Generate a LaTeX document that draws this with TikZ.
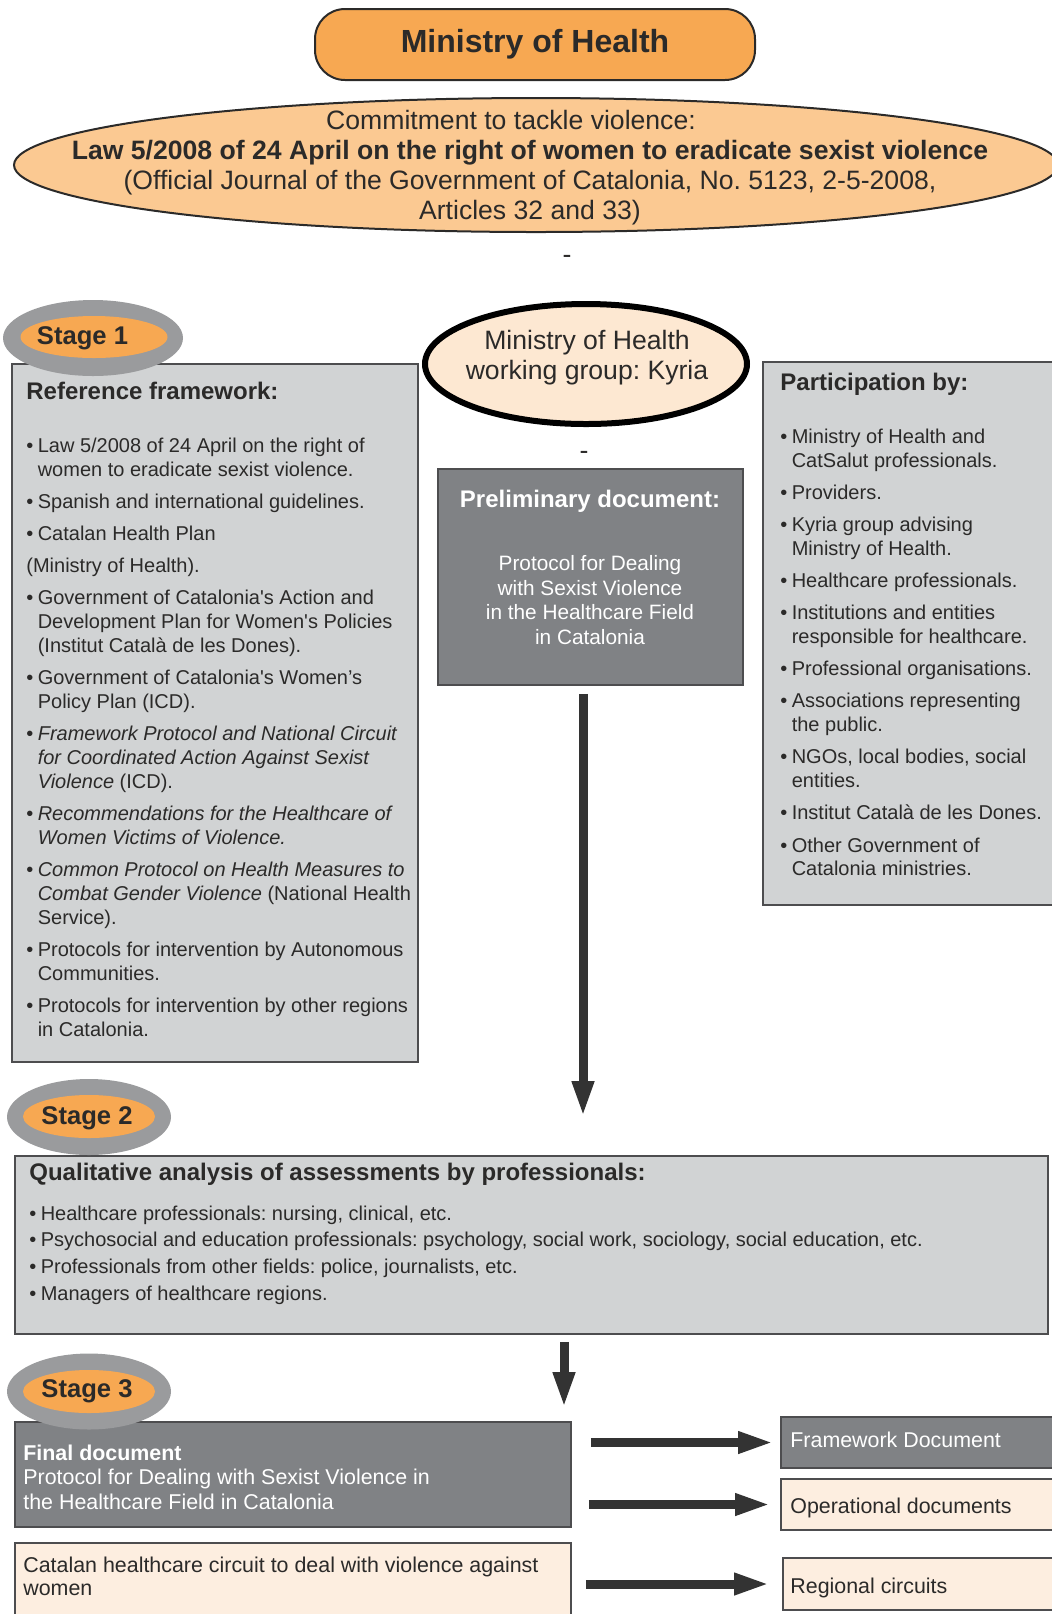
\documentclass[tikz,border=0pt]{standalone}
\usepackage{fontspec}
\setmainfont{Liberation Sans}
\usepackage{tikz}
\usepackage{xcolor}
\usetikzlibrary{calc,positioning,shapes,arrows.meta}

\definecolor{ink}{HTML}{2B2A29}
\definecolor{boxgrey}{HTML}{D1D3D4}
\definecolor{docgrey}{HTML}{808285}
\definecolor{ringgrey}{HTML}{9A9B9D}
\definecolor{edgegrey}{HTML}{4D4D4F}
\definecolor{orangeA}{HTML}{F7A852}
\definecolor{orangeB}{HTML}{FBC992}
\definecolor{peach}{HTML}{FDEEE0}
\definecolor{kyriafill}{HTML}{FDE8D2}
\definecolor{arrowgrey}{HTML}{333333}

\newcommand{\bul}{\textbullet\hspace{2.2pt}}
\newcommand{\ind}{\hphantom{\textbullet\hspace{2.2pt}}}
\newcommand{\apo}{\textquotesingle}
\frenchspacing

\begin{document}
\begin{tikzpicture}[x=0.5pt,y=-0.5pt,
    box/.style={draw=edgegrey,line width=0.8pt,fill=boxgrey,inner sep=0pt},
    docbox/.style={box,fill=docgrey},
    peachbox/.style={box,fill=peach},
    ring/.style={ellipse,fill=ringgrey,inner sep=0pt},
    yolk/.style={ellipse,fill=orangeA,inner sep=0pt},
    stagetxt/.style={font=\bfseries\fontsize{12.8}{14}\selectfont,text=ink,inner sep=0pt},
    head/.style={anchor=west,font=\bfseries\fontsize{12}{14}\selectfont,text=ink,inner sep=0pt},
    items/.style={anchor=north west,align=left,font=\fontsize{10}{11.9}\selectfont,text=ink,inner sep=0pt},
    small/.style={anchor=west,font=\fontsize{10.7}{12.25}\selectfont,inner sep=0pt},
    fat/.style={draw=arrowgrey,line width=4.5pt,-{Triangle[length=18pt,width=10pt]}}]
      \useasboundingbox (0,0) rectangle (1051,1614);

      \node[draw=ink,line width=1pt,fill=orangeA,rounded corners=15pt,minimum width=220pt,minimum height=35.5pt,
            font=\bfseries\fontsize{16}{18}\selectfont,text=ink] (moh) at (535,44.5) {Ministry of Health};
      \node[ellipse,draw=ink,line width=1pt,fill=orangeB,minimum width=522pt,minimum height=67pt] (law) at (536,165) {};
      \node[align=center,text=ink,font=\fontsize{13.3}{15}\selectfont,inner sep=0pt] (lawtxt) at (530,168)
            {Commitment to tackle violence:\hspace*{19pt}\\
             \textbf{Law 5/2008 of 24 April on the right of women to eradicate sexist violence}\\
             (Official Journal of the Government of Catalonia, No. 5123, 2-5-2008,\\
             Articles 32 and 33)};
      \node[text=ink,font=\fontsize{13.3}{15}\selectfont,inner sep=0pt] (dashA) at (567,259) {-};

      \node[box,minimum width=203pt,minimum height=349pt] (ref) at (215,713) {};
      \node[ring,minimum width=90pt,minimum height=38pt] (ring1) at (93,338) {};
      \node[yolk,minimum width=73.5pt,minimum height=21pt] (yolk1) at (94,337) {};
      \node[stagetxt] (st1) at (82.5,338) {Stage 1};
      \node[head] (refhead) at (26,391) {Reference framework:};
      \node[items] (reflist) at (26,437.4)
            {\bul Law 5/2008 of 24 April on the right of\\
             \ind women to eradicate sexist violence.\\[4.2pt]
             \bul Spanish and international guidelines.\\[4.2pt]
             \bul Catalan Health Plan\\[4.2pt]
             (Ministry of Health).\\[4.2pt]
             \bul Government of Catalonia\apo s Action and\\
             \ind Development Plan for Women\apo s Policies\\
             \ind (Institut Català de les Dones).\\[4.2pt]
             \bul Government of Catalonia\apo s Women’s\\
             \ind Policy Plan (ICD).\\[4.2pt]
             \bul \textit{Framework Protocol and National Circuit}\\
             \ind \textit{for Coordinated Action Against Sexist}\\
             \ind \textit{Violence} (ICD).\\[4.2pt]
             \bul \textit{Recommendations for the Healthcare of}\\
             \ind \textit{Women Victims of Violence.}\\[4.2pt]
             \bul \textit{Common Protocol on Health Measures to}\\
             \ind \textit{Combat Gender Violence} (National Health\\
             \ind Service).\\[4.2pt]
             \bul Protocols for intervention by Autonomous\\
             \ind Communities.\\[4.2pt]
             \bul Protocols for intervention by other regions\\
             \ind in Catalonia.};

      \node[ellipse,draw=black,line width=3pt,fill=kyriafill,minimum width=161pt,minimum height=60pt] (kyria) at (586,364) {};
      \node[align=center,text=ink,font=\fontsize{13.3}{15}\selectfont,inner sep=0pt] (kyriatxt) at (587,358)
            {Ministry of Health\\ working group: Kyria};
      \node[text=ink,font=\fontsize{13.3}{15}\selectfont,inner sep=0pt] (dashB) at (584,455) {-};
      \node[docbox,minimum width=152.5pt,minimum height=108pt] (prelim) at (590.5,577) {};
      \node[text=white,font=\bfseries\fontsize{12}{14}\selectfont,inner sep=0pt] (prehead) at (590,501) {Preliminary document:};
      \node[align=center,text=white,font=\fontsize{10.4}{12.3}\selectfont,inner sep=0pt] (pretxt) at (590,600)
            {Protocol for Dealing\\ with Sexist Violence\\ in the Healthcare Field\\ in Catalonia};

      \node[box,minimum width=148.5pt,minimum height=271.5pt] (part) at (911.5,633.5) {};
      \node[head] (parthead) at (780,384) {Participation by:};
      \node[items] (partlist) at (780,428.4)
            {\bul Ministry of Health and\\
             \ind CatSalut professionals.\\[4.2pt]
             \bul Providers.\\[4.2pt]
             \bul Kyria group advising\\
             \ind Ministry of Health.\\[4.2pt]
             \bul Healthcare professionals.\\[4.2pt]
             \bul Institutions and entities\\
             \ind responsible for healthcare.\\[4.2pt]
             \bul Professional organisations.\\[4.2pt]
             \bul Associations representing\\
             \ind the public.\\[4.2pt]
             \bul NGOs, local bodies, social\\
             \ind entities.\\[4.2pt]
             \bul Institut Català de les Dones.\\[4.2pt]
             \bul Other Government of\\
             \ind Catalonia ministries.};

      \node[box,minimum width=516.5pt,minimum height=89pt] (qual) at (531.5,1245) {};
      \node[ring,minimum width=82pt,minimum height=38pt] (ring2) at (89,1117) {};
      \node[yolk,minimum width=66pt,minimum height=21.5pt] (yolk2) at (89,1116.5) {};
      \node[stagetxt] (st2) at (87,1118) {Stage 2};
      \node[head] (qualhead) at (29,1174) {Qualitative analysis of assessments by professionals:};
      \node[items] (quallist) at (29,1205.4)
            {\bul Healthcare professionals: nursing, clinical, etc.\\[1.4pt]
             \bul Psychosocial and education professionals: psychology, social work, sociology, social education, etc.\\[1.4pt]
             \bul Professionals from other fields: police, journalists, etc.\\[1.4pt]
             \bul Managers of healthcare regions.};

      \node[docbox,minimum width=278pt,minimum height=52.5pt] (final) at (293,1474.5) {};
      \node[peachbox,minimum width=278pt,minimum height=41pt] (circuit) at (293,1584) {};
      \node[ring,minimum width=82pt,minimum height=38pt] (ring3) at (89,1391.5) {};
      \node[yolk,minimum width=66pt,minimum height=21.5pt] (yolk3) at (89,1391.5) {};
      \node[stagetxt] (st3) at (87,1391) {Stage 3};
      \node[anchor=north west,align=left,text=white,font=\fontsize{10.7}{12.25}\selectfont,inner sep=0pt] (finaltxt) at (23,1444.4)
            {\textbf{Final document}\\
             Protocol for Dealing with Sexist Violence in\\
             the Healthcare Field in Catalonia};
      \node[anchor=north west,align=left,text=ink,font=\fontsize{10.7}{11.6}\selectfont,inner sep=0pt] (circuittxt) at (23,1556.4)
            {Catalan healthcare circuit to deal with violence against\\ women};

      \node[docbox,line width=1pt,minimum width=139.5pt,minimum height=25.5pt] (fwdoc) at (920.5,1442.5) {};
      \node[peachbox,line width=1pt,minimum width=139.5pt,minimum height=25.5pt] (opdoc) at (920.5,1504.5) {};
      \node[peachbox,line width=1pt,minimum width=138.5pt,minimum height=26pt] (regional) at (921.5,1584) {};
      \node[small,text=white] (fwtxt) at (790,1440) {Framework Document};
      \node[small,text=ink] (optxt) at (790,1507.5) {Operational documents};
      \node[small,text=ink] (regtxt) at (790,1587.5) {Regional circuits};

      \coordinate (drop) at (564,0);
      \draw[fat,shorten <=4pt,shorten >=19pt] ([xshift=-3.75pt]prelim.south) -- ([xshift=-3.75pt]prelim.south |- qual.north);
      \draw[fat,shorten <=3.5pt,shorten >=6.5pt] (drop |- qual.south) -- (drop |- final.north);
      \draw[fat,shorten <=9.5pt,shorten >=3pt] (final.east |- fwdoc) -- (fwdoc.west);
      \draw[fat,shorten <=8.5pt,shorten >=4.5pt] (final.east |- opdoc) -- (opdoc.west);
      \draw[fat,shorten <=7pt,shorten >=6pt] (circuit.east |- regional) -- (regional.west);
     \end{tikzpicture}
\end{document}
